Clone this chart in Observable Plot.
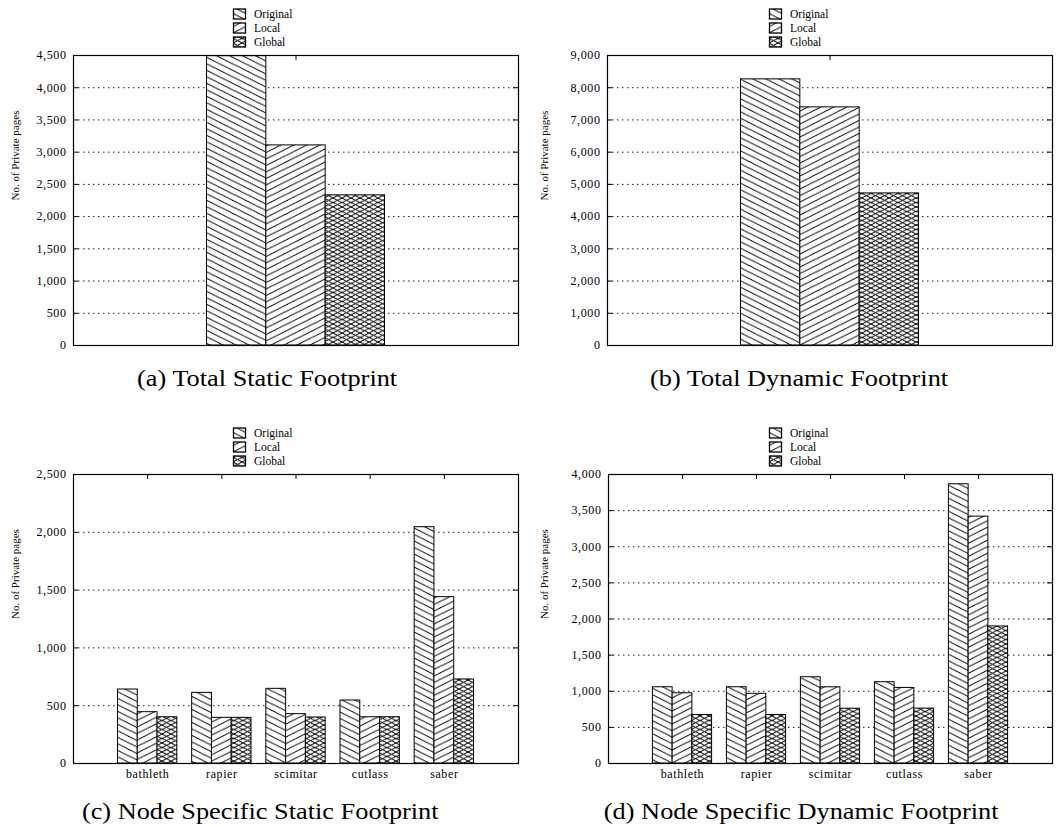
<!DOCTYPE html>
<html><head><meta charset="utf-8">
<script src="https://cdn.jsdelivr.net/npm/d3@7"></script>
<script src="https://cdn.jsdelivr.net/npm/@observablehq/plot@0.6"></script>
<style>
body{margin:0;background:#fff;font-family:"Liberation Serif","Times New Roman",serif;}
#root{position:relative;width:1058px;height:827px;overflow:hidden;background:#fff;}
.panel{position:absolute;}
.caption{position:absolute;width:600px;text-align:center;font-size:23.5px;line-height:26px;color:#000;white-space:nowrap;}
.caption span{display:inline-block;transform:scaleX(1.12);}
.legend{position:absolute;}
g[aria-label="y-axis tick label"] text, g[aria-label="x-axis tick label"] text{letter-spacing:0.6px;}
</style></head>
<body><div id="root"></div>
<script>
// ---- data ----
const seriesNames = ["Original", "Local", "Global"];
const totalCats = [""];
const staticTotalOriginal = [4490];
const staticTotalLocal = [3105];
const staticTotalGlobal = [2330];
const dynamicTotalOriginal = [8260];
const dynamicTotalLocal = [7390];
const dynamicTotalGlobal = [4720];
const nodeCats = ["bathleth", "rapier", "scimitar", "cutlass", "saber"];
const staticOriginal = [640, 611, 646, 545, 2044];
const staticLocal = [444, 395, 427, 400, 1439];
const staticGlobal = [400, 395, 398, 400, 727];
const dynamicOriginal = [1055, 1055, 1194, 1125, 3865];
const dynamicLocal = [972, 965, 1055, 1046, 3417];
const dynamicGlobal = [671, 671, 758, 760, 1897];
const yLabel = "No. of Private pages";
const captions = ["(a) Total Static Footprint", "(b) Total Dynamic Footprint",
  "(c) Node Specific Static Footprint", "(d) Node Specific Dynamic Footprint"];

const root = document.getElementById("root");

// ---- patterns ----
function hatch(w, h, dir) {
  let d = "";
  if (dir > 0) for (let k = -1; k <= 1; k++) d += `M${-w},${-h + h * k}L${2 * w},${2 * h + h * k}`;
  else for (let k = 0; k <= 2; k++) d += `M${-w},${h + h * k}L${2 * w},${-2 * h + h * k}`;
  return d;
}
function pattern(id, w, h, dirs) {
  return `<pattern id="${id}" patternUnits="userSpaceOnUse" width="${w}" height="${h}">
    <rect width="${w}" height="${h}" fill="#fff"/>
    ${dirs.map(d => `<path d="${hatch(w, h, d)}" stroke="#000" stroke-width="1" fill="none"/>`).join("")}
  </pattern>`;
}
const defsHolder = document.createElement("div");
defsHolder.innerHTML = `<svg width="0" height="0" style="position:absolute;left:0;top:0"><defs>
  ${pattern("pat-Original", 13, 6.5, [1])}
  ${pattern("pat-Local", 13, 6.5, [-1])}
  ${pattern("pat-Global", 9, 4.5, [1, -1])}
</defs></svg>`;
root.appendChild(defsHolder.firstChild);

// ---- panels ----
function panel({left, top, mL, mR, frameH, cats, values, yMax, yStep, xDomain, showX}) {
  const W = 529;
  const fw = W - mL - mR;
  const rows = [];
  seriesNames.forEach((s, si) => values[si].forEach((v, ci) => rows.push({cat: cats[ci], ci, series: s, si, value: v})));
  const yTicks = d3.range(0, yMax + 1, yStep);
  const catIdx = cats.map((c, i) => i);
  const gw = 0.8, bw = gw / seriesNames.length;
  const marks = [
    Plot.ruleY(yTicks.filter(t => t > 0 && t < yMax), {y: d => d, stroke: "#000", strokeWidth: 0.9, strokeDasharray: "1.5,3.5"}),
    ...seriesNames.map(s => Plot.rectY(rows.filter(r => r.series === s), {
      x1: r => r.ci - gw / 2 + r.si * bw,
      x2: r => r.ci - gw / 2 + (r.si + 1) * bw,
      y1: 0, y2: "value",
      fill: `url(#pat-${s})`, stroke: "#000", strokeWidth: 1
    })),
    Plot.tickY(yTicks, {y: d => d, insetRight: fw - 5, stroke: "#000"}),
    Plot.tickY(yTicks, {y: d => d, insetLeft: fw - 5, stroke: "#000"}),
    Plot.tickX(catIdx, {x: d => d, insetBottom: frameH - 5, stroke: "#000"}),
    Plot.frame({stroke: "#000", strokeWidth: 1.2}),
    Plot.axisY(yTicks, {tickSize: 0, tickPadding: 7, tickFormat: d3.format(","), fontSize: 12, label: null}),
    Plot.text([yLabel], {text: d => d, frameAnchor: "left", rotate: -90, dx: -(mL - 15), fontSize: 11, fill: "#000"})
  ];
  if (showX) marks.push(Plot.axisX(catIdx, {tickSize: 0, tickPadding: 6, tickFormat: i => cats[i], fontSize: 12, label: null}));
  const chart = Plot.plot({
    width: W, height: 10 + frameH + 30,
    marginTop: 10, marginBottom: 30, marginLeft: mL, marginRight: mR,
    x: {type: "linear", domain: xDomain, axis: showX ? undefined : null},
    y: {domain: [0, yMax]},
    style: {fontFamily: "Liberation Serif, Times New Roman, serif", fontSize: "12px", color: "#000", background: "#fff", overflow: "visible"},
    marks
  });
  const div = document.createElement("div");
  div.className = "panel";
  div.style.left = left + "px";
  div.style.top = top + "px";
  div.appendChild(chart);
  root.appendChild(div);
}

function legend(left, frameTop) {
  const rowsY = [7, 21, 35];
  const svg = `<svg width="90" height="44" style="overflow:visible">
    ${seriesNames.map((s, i) => `
      <rect x="0.5" y="${rowsY[i] - 5}" width="12" height="10" fill="url(#pat-${s})" stroke="#000" stroke-width="1.3"/>
      <text x="21" y="${rowsY[i]}" dominant-baseline="central" font-family="Liberation Serif, Times New Roman, serif" font-size="11.5" fill="#000">${s}</text>`).join("")}
  </svg>`;
  const div = document.createElement("div");
  div.className = "legend";
  div.style.left = left + "px";
  div.style.top = (frameTop - 48) + "px";
  div.innerHTML = svg;
  root.appendChild(div);
}

function caption(text, cx, cy) {
  const div = document.createElement("div");
  div.className = "caption";
  div.style.left = (cx - 300) + "px";
  div.style.top = (cy - 13) + "px";
  const span = document.createElement("span");
  span.textContent = text;
  div.appendChild(span);
  root.appendChild(div);
}

panel({left: 0, top: 45, mL: 73, mR: 11, frameH: 290, cats: totalCats,
  values: [staticTotalOriginal, staticTotalLocal, staticTotalGlobal], yMax: 4500, yStep: 500, xDomain: [-1, 1], showX: false});
panel({left: 529, top: 45, mL: 78, mR: 6, frameH: 290, cats: totalCats,
  values: [dynamicTotalOriginal, dynamicTotalLocal, dynamicTotalGlobal], yMax: 9000, yStep: 1000, xDomain: [-1, 1], showX: false});
panel({left: 0, top: 464, mL: 73, mR: 11, frameH: 289, cats: nodeCats,
  values: [staticOriginal, staticLocal, staticGlobal], yMax: 2500, yStep: 500, xDomain: [-1, 5], showX: true});
panel({left: 529, top: 464, mL: 79, mR: 6, frameH: 289, cats: nodeCats,
  values: [dynamicOriginal, dynamicLocal, dynamicGlobal], yMax: 4000, yStep: 500, xDomain: [-1, 5], showX: true});

legend(233, 55);
legend(769, 55);
legend(233, 474);
legend(769, 474);

caption(captions[0], 267, 378);
caption(captions[1], 799, 378);
caption(captions[2], 260, 811);
caption(captions[3], 801, 811);
</script>
</body></html>
